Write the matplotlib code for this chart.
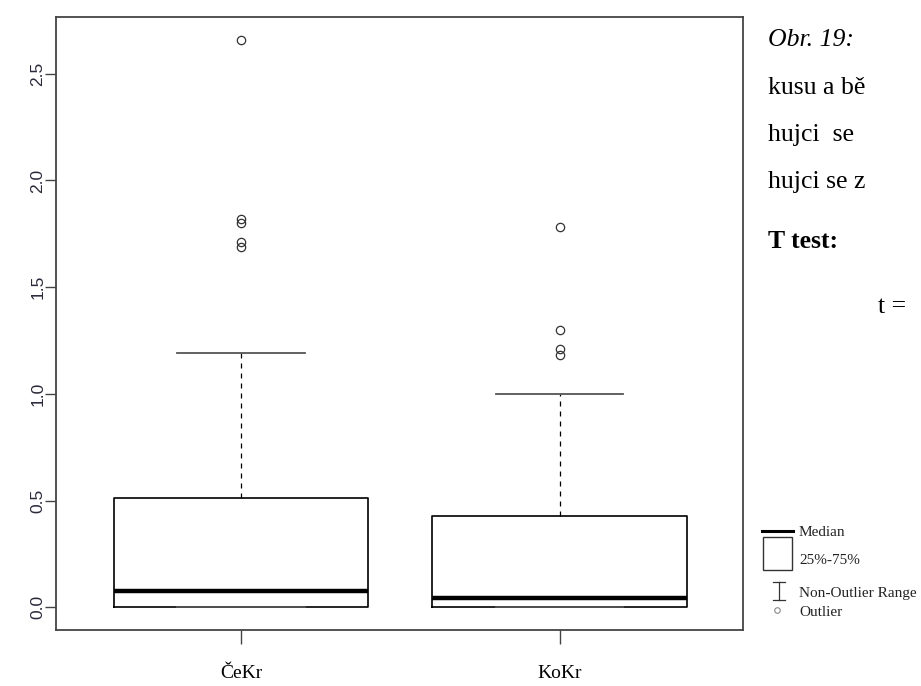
import matplotlib
matplotlib.use('Agg')
import matplotlib.pyplot as plt
from matplotlib.lines import Line2D
from matplotlib.patches import Rectangle

# Box plot statistics
groups = ['ČeKr', 'KoKr']
q1 = [0.0, 0.0]
medians = [0.075, 0.045]
q3 = [0.51, 0.43]
whisker_lo = [0.0, 0.0]
whisker_hi = [1.19, 1.0]
outliers = [
    [2.66, 1.82, 1.80, 1.71, 1.69],
    [1.78, 1.30, 1.21, 1.18],
]
y_ticks = [0.0, 0.5, 1.0, 1.5, 2.0, 2.5]

# Surrounding document text (cut off at the right edge)
doc_lines = ['kusu a bě', 'hujci  se', 'hujci se z']
legend_labels = ['Median', '25%-75%', 'Non-Outlier Range', 'Outlier']

W, H = 921, 686


def fx(px):
    return px / W


def fy(py):
    return 1 - py / H


def main():
    fig = plt.figure(figsize=(W / 100, H / 100), dpi=100)
    ax = fig.add_axes([fx(56), fy(630), fx(743) - fx(56), fy(17) - fy(630)])

    stats = []
    for i, name in enumerate(groups):
        stats.append(dict(label=name, q1=q1[i], med=medians[i], q3=q3[i],
                          whislo=whisker_lo[i], whishi=whisker_hi[i],
                          fliers=outliers[i]))

    ax.bxp(stats, positions=[1, 2], widths=0.8, capwidths=0.4,
           boxprops=dict(color='black', linewidth=1.2),
           medianprops=dict(color='black', linewidth=3.2, solid_capstyle='butt'),
           whiskerprops=dict(color='black', linewidth=0.9, linestyle=(0, (4, 4))),
           capprops=dict(color='#555555', linewidth=1.3),
           flierprops=dict(marker='o', markersize=6, markerfacecolor='none',
                           markeredgecolor='#333333', markeredgewidth=0.9))

    ax.set_xlim(0.419, 2.576)
    ax.set_ylim(-0.1064, 2.766)

    for sp in ax.spines.values():
        sp.set_color('#444444')
        sp.set_linewidth(1.3)

    ax.set_yticks(y_ticks)
    ax.set_yticklabels(['%.1f' % v for v in y_ticks], rotation=90,
                       va='center', family='Liberation Sans', fontsize=12.5,
                       color='#2a2a3a')
    ax.tick_params(axis='y', length=8, width=1.0, color='#444444', pad=-0.5)
    ax.set_xticks([1, 2])
    ax.set_xticklabels(groups, family='Liberation Serif', fontsize=14,
                       color='black')
    ax.tick_params(axis='x', length=10, width=1.0, color='#444444', pad=15)

    # Document text on the right
    serif = 'Liberation Serif'
    fs = 18.5
    fig.text(fx(768), fy(40), 'Obr. 19:', family=serif, style='italic',
             fontsize=fs, va='center', ha='left')
    for k, line in enumerate(doc_lines):
        fig.text(fx(768), fy(88 + 47 * k), line, family=serif, fontsize=fs,
                 va='center', ha='left')
    fig.text(fx(768), fy(241), 'T test:', family=serif, weight='bold',
             fontsize=fs, va='center', ha='left')
    fig.text(fx(878), fy(307), 't =', family=serif, fontsize=fs,
             va='center', ha='left')

    # Hand-drawn legend in the lower right
    lc = '#333333'
    fig.add_artist(Line2D([fx(762), fx(793)], [fy(531), fy(531)],
                          color='black', linewidth=2.2))
    fig.add_artist(Rectangle((fx(763), fy(570)), fx(792) - fx(763),
                             fy(537) - fy(570), transform=fig.transFigure,
                             facecolor='none', edgecolor=lc, linewidth=1.0))
    fig.add_artist(Line2D([fx(779), fx(779)], [fy(582), fy(600)],
                          color=lc, linewidth=0.9))
    for yy in (582, 600):
        fig.add_artist(Line2D([fx(773), fx(785)], [fy(yy), fy(yy)],
                              color=lc, linewidth=0.9))
    fig.add_artist(Line2D([fx(777)], [fy(610)], marker='o', markersize=4,
                          markerfacecolor='none', markeredgecolor='#888888',
                          markeredgewidth=0.8, linestyle='none'))
    ys = [532, 560, 593, 612]
    for lab, yy in zip(legend_labels, ys):
        fig.text(fx(799), fy(yy), lab, family=serif, fontsize=11,
                 va='center', ha='left', color='#222222')

    fig.savefig('out.png', dpi=100)


if __name__ == '__main__':
    main()
